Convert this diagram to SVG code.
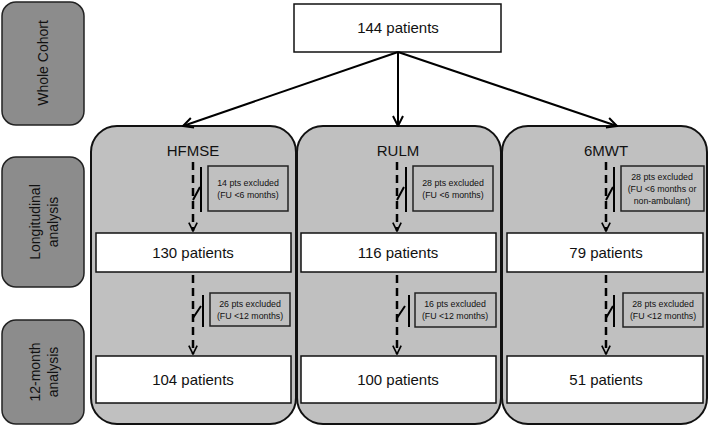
<svg xmlns="http://www.w3.org/2000/svg" width="709" height="428" viewBox="0 0 709 428">
<defs>
<marker id="ah" viewBox="0 0 12 12" refX="11" refY="6" markerWidth="12" markerHeight="12" markerUnits="userSpaceOnUse" orient="auto">
<path d="M1,1 L11,6 L1,11" fill="none" stroke="#000" stroke-width="2"/>
</marker>
<marker id="ahs" viewBox="0 0 12 12" refX="11" refY="6" markerWidth="10" markerHeight="10" markerUnits="userSpaceOnUse" orient="auto">
<path d="M1,1 L11,6 L1,11" fill="none" stroke="#000" stroke-width="2"/>
</marker>
</defs>
<style>
text{font-family:"Liberation Sans",Arial,sans-serif;fill:#111;}
.side{fill:#8c8c8c;stroke:#222;stroke-width:1.5;}
.panel{fill:#c0c0c0;stroke:#111;stroke-width:2;}
.wbox{fill:#fff;stroke:#111;stroke-width:1.5;}
.ebox{fill:#c0c0c0;stroke:#222;stroke-width:1.5;}
.big{font-size:15px;}
.lbl{font-size:14px;}
.ex{font-size:8.8px;}
.dash{stroke:#000;stroke-width:2.5;stroke-dasharray:8,5;fill:none;}
.sw{stroke:#000;stroke-width:2;fill:none;}
.conn{stroke:#000;stroke-width:2;fill:none;}
</style>
<g id="side-labels">
<g id="whole-cohort"><rect class="side" x="2" y="2" width="82" height="123" rx="14"/><text class="lbl" transform="translate(48,63) rotate(-90)" text-anchor="middle">Whole Cohort</text></g>
<g id="longitudinal"><rect class="side" x="2" y="157" width="82" height="130" rx="14"/><text class="lbl" transform="translate(40,222) rotate(-90)" text-anchor="middle">Longitudinal</text><text class="lbl" transform="translate(58,222) rotate(-90)" text-anchor="middle">analysis</text></g>
<g id="twelve-month"><rect class="side" x="2" y="320" width="82" height="104" rx="14"/><text class="lbl" transform="translate(40,372) rotate(-90)" text-anchor="middle">12-month</text><text class="lbl" transform="translate(58,372) rotate(-90)" text-anchor="middle">analysis</text></g>
</g>
<g id="panels">
<g id="panel-hfmse"><rect class="panel" x="91" y="126" width="205" height="298" rx="26"/><text class="big" x="193" y="156" text-anchor="middle">HFMSE</text></g>
<g id="panel-rulm"><rect class="panel" x="297" y="126" width="204" height="298" rx="26"/><text class="big" x="398" y="156" text-anchor="middle">RULM</text></g>
<g id="panel-6mwt"><rect class="panel" x="502" y="126" width="205" height="298" rx="26"/><text class="big" x="606" y="156" text-anchor="middle">6MWT</text></g>
</g>
<g id="top"><rect class="wbox" x="294" y="4" width="207" height="48"/><text class="big" x="398" y="33" text-anchor="middle">144 patients</text></g>
<g id="n130"><rect class="wbox" x="96" y="233" width="195" height="39"/><text class="big" x="193" y="258" text-anchor="middle">130 patients</text></g>
<g id="n116"><rect class="wbox" x="301" y="233" width="195" height="39"/><text class="big" x="398" y="258" text-anchor="middle">116 patients</text></g>
<g id="n79"><rect class="wbox" x="507" y="233" width="196" height="39"/><text class="big" x="606" y="258" text-anchor="middle">79 patients</text></g>
<g id="n104"><rect class="wbox" x="96" y="356" width="195" height="47"/><text class="big" x="193" y="385" text-anchor="middle">104 patients</text></g>
<g id="n100"><rect class="wbox" x="301" y="356" width="195" height="47"/><text class="big" x="398" y="385" text-anchor="middle">100 patients</text></g>
<g id="n51"><rect class="wbox" x="507" y="356" width="196" height="47"/><text class="big" x="606" y="385" text-anchor="middle">51 patients</text></g>
<g id="excl-boxes">
<g id="ex1"><rect class="ebox" x="208" y="166" width="80" height="45"/><text class="ex" x="248" y="186" text-anchor="middle">14 pts excluded</text><text class="ex" x="248" y="198" text-anchor="middle">(FU &lt;6 months)</text></g>
<g id="ex2"><rect class="ebox" x="413" y="166" width="80" height="45"/><text class="ex" x="453" y="186" text-anchor="middle">28 pts excluded</text><text class="ex" x="453" y="198" text-anchor="middle">(FU &lt;6 months)</text></g>
<g id="ex3"><rect class="ebox" x="621" y="166" width="83" height="45"/><text class="ex" x="662" y="180" text-anchor="middle">28 pts excluded</text><text class="ex" x="662" y="192" text-anchor="middle">(FU &lt;6 months or</text><text class="ex" x="662" y="204" text-anchor="middle">non-ambulant)</text></g>
<g id="ex4"><rect class="ebox" x="210" y="293" width="80" height="33"/><text class="ex" x="250" y="307" text-anchor="middle">26 pts excluded</text><text class="ex" x="250" y="319" text-anchor="middle">(FU &lt;12 months)</text></g>
<g id="ex5"><rect class="ebox" x="415" y="293" width="81" height="34"/><text class="ex" x="455" y="307" text-anchor="middle">16 pts excluded</text><text class="ex" x="455" y="319" text-anchor="middle">(FU &lt;12 months)</text></g>
<g id="ex6"><rect class="ebox" x="623" y="293" width="80" height="34"/><text class="ex" x="663" y="307" text-anchor="middle">28 pts excluded</text><text class="ex" x="663" y="319" text-anchor="middle">(FU &lt;12 months)</text></g>
</g>
<g id="connectors">
<line class="conn" x1="398" y1="52" x2="183" y2="126" marker-end="url(#ah)"/>
<line class="conn" x1="398" y1="52" x2="398" y2="126" marker-end="url(#ah)"/>
<line class="conn" x1="398" y1="52" x2="617" y2="126" marker-end="url(#ah)"/>
<line class="dash" x1="193" y1="162" x2="193" y2="231" marker-end="url(#ahs)"/>
<line class="dash" x1="397" y1="162" x2="397" y2="231" marker-end="url(#ahs)"/>
<line class="dash" x1="606" y1="162" x2="606" y2="231" marker-end="url(#ahs)"/>
<line class="dash" x1="193" y1="275" x2="193" y2="354" marker-end="url(#ahs)"/>
<line class="dash" x1="397" y1="275" x2="397" y2="354" marker-end="url(#ahs)"/>
<line class="dash" x1="606" y1="275" x2="606" y2="354" marker-end="url(#ahs)"/>
<path class="sw" d="M201,167 V212 M193,200 L200,187"/>
<path class="sw" d="M406,167 V212 M397,200 L404,187"/>
<path class="sw" d="M614,167 V212 M606,200 L613,187"/>
<path class="sw" d="M203,295 V327 M193,318 L201,306"/>
<path class="sw" d="M409,295 V327 M397,318 L405,306"/>
<path class="sw" d="M614,295 V327 M606,318 L613,306"/>
</g>
</svg>
